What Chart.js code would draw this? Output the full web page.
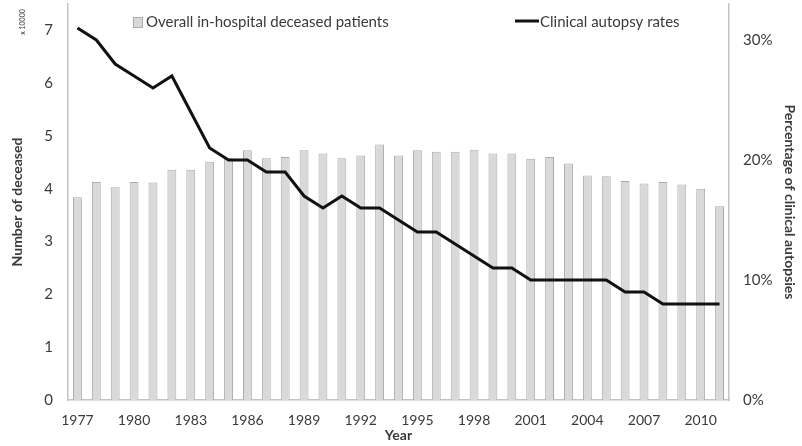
<!DOCTYPE html>
<html>
<head>
<meta charset="utf-8">
<script src="https://cdn.jsdelivr.net/npm/chart.js@4/dist/chart.umd.min.js"></script>
<style>
  html, body { margin: 0; padding: 0; background: #fff; }
  #wrap { width: 802px; height: 446px; }
</style>
</head>
<body>
<div id="wrap"><canvas id="myChart" width="802" height="446"></canvas></div>
<script>
var years = ['1977','1978','1979','1980','1981','1982','1983','1984','1985','1986',
             '1987','1988','1989','1990','1991','1992','1993','1994','1995','1996',
             '1997','1998','1999','2000','2001','2002','2003','2004','2005','2006',
             '2007','2008','2009','2010','2011'];

// number of in-hospital deceased, in units of 10000
var deceased = [3.84, 4.13, 4.03, 4.13, 4.12, 4.36, 4.36, 4.51, 4.58, 4.73,
                4.58, 4.60, 4.73, 4.67, 4.58, 4.63, 4.84, 4.63, 4.73, 4.70,
                4.70, 4.74, 4.67, 4.67, 4.57, 4.60, 4.48, 4.25, 4.24, 4.15,
                4.10, 4.13, 4.08, 4.00, 3.67];

// clinical autopsy rate, percent
var autopsyRate = [31, 30, 28, 27, 26, 27, 24, 21, 20, 20,
                   19, 19, 17, 16, 17, 16, 16, 15, 14, 14,
                   13, 12, 11, 11, 10, 10, 10, 10, 10, 9,
                   9, 8, 8, 8, 8];

var leftTicks = [0, 1, 2, 3, 4, 5, 6, 7];
var rightTicks = [0, 10, 20, 30];

var FONT = 'Lato, "Open Sans", sans-serif';
var axisGray = '#c3c3c3';
var textGray = '#3a3a3a';

// legend drawn inside the plot area, spread like the original
var legendPlugin = {
    id: 'insideLegend',
    afterDraw: function(chart) {
        var c = chart.ctx;
        var ds = chart.data.datasets;
        c.save();
        c.font = '15px ' + FONT;
        c.textBaseline = 'middle';
        // bars
        c.fillStyle = ds[0].backgroundColor;
        c.fillRect(133, 17, 9, 10);
        c.strokeStyle = ds[0].borderColor;
        c.lineWidth = 1;
        c.strokeRect(133.5, 17.5, 9, 10);
        c.fillStyle = textGray;
        c.textAlign = 'left';
        c.fillText(ds[0].label, 146, 22);
        // line
        c.strokeStyle = ds[1].borderColor;
        c.lineWidth = 3;
        c.beginPath();
        c.moveTo(515, 21);
        c.lineTo(539, 21);
        c.stroke();
        c.fillText(ds[1].label, 540, 22);
        // unit note
        c.translate(23, 22);
        c.rotate(-Math.PI / 2);
        c.font = '7px ' + FONT;
        c.textAlign = 'center';
        c.fillText('x 10000', 0, 0);
        c.restore();
    }
};

var ctx = document.getElementById('myChart').getContext('2d');
var myChart = new Chart(ctx, {
    type: 'bar',
    data: {
        labels: years,
        datasets: [{
            type: 'bar',
            label: 'Overall in-hospital deceased patients',
            data: deceased,
            backgroundColor: '#d9d9d9',
            borderColor: '#ababab',
            borderWidth: 1,
            categoryPercentage: 1.0,
            barPercentage: 0.47,
            yAxisID: 'y',
            order: 2
        }, {
            type: 'line',
            label: 'Clinical autopsy rates',
            data: autopsyRate,
            borderColor: '#111111',
            backgroundColor: '#111111',
            borderWidth: 3,
            pointRadius: 0,
            tension: 0,
            yAxisID: 'y1',
            order: 1
        }]
    },
    options: {
        responsive: false,
        animation: false,
        layout: { padding: { top: 4, left: 9, right: 4, bottom: 2 } },
        plugins: {
            legend: { display: false },
            tooltip: { enabled: false }
        },
        scales: {
            x: {
                grid: { display: false },
                border: { display: true, color: axisGray, width: 1.5 },
                ticks: {
                    autoSkip: false,
                    maxRotation: 0,
                    color: textGray,
                    padding: 4,
                    font: { family: FONT, size: 14 },
                    callback: function(v, i) { return i % 3 === 0 ? years[i] : ''; }
                },
                title: {
                    display: true,
                    text: 'Year',
                    color: textGray,
                    padding: { top: 0, bottom: 0 },
                    font: { family: FONT, size: 14, weight: 'bold' }
                },
                afterFit: function(s) { s.height = 44; s.paddingLeft = 0; s.paddingRight = 0; }
            },
            y: {
                position: 'left',
                min: 0,
                max: 7.5,
                grid: { display: false },
                border: { display: true, color: axisGray, width: 1.5 },
                afterBuildTicks: function(s) {
                    s.ticks = leftTicks.map(function(v) { return { value: v }; });
                },
                ticks: {
                    color: textGray,
                    padding: 7,
                    font: { family: FONT, size: 15 }
                },
                title: {
                    display: true,
                    text: 'Number of deceased',
                    color: textGray,
                    padding: { top: 0, bottom: 0 },
                    font: { family: FONT, size: 14, weight: 'bold' }
                },
                afterFit: function(s) { s.width = 59; s.paddingTop = 0; s.paddingBottom = 0; }
            },
            y1: {
                position: 'right',
                min: 0,
                max: 33,
                grid: { display: false },
                border: { display: true, color: axisGray, width: 1.5 },
                afterBuildTicks: function(s) {
                    s.ticks = rightTicks.map(function(v) { return { value: v }; });
                },
                ticks: {
                    color: textGray,
                    padding: 6,
                    font: { family: FONT, size: 15 },
                    callback: function(v) { return v + '%'; }
                },
                title: {
                    display: true,
                    text: 'Percentage of clinical autopsies',
                    color: textGray,
                    padding: { top: 0, bottom: 0 },
                    font: { family: FONT, size: 14, weight: 'bold' }
                },
                afterFit: function(s) { s.width = 69; s.paddingTop = 0; s.paddingBottom = 0; }
            }
        }
    },
    plugins: [legendPlugin]
});
</script>
</body>
</html>
